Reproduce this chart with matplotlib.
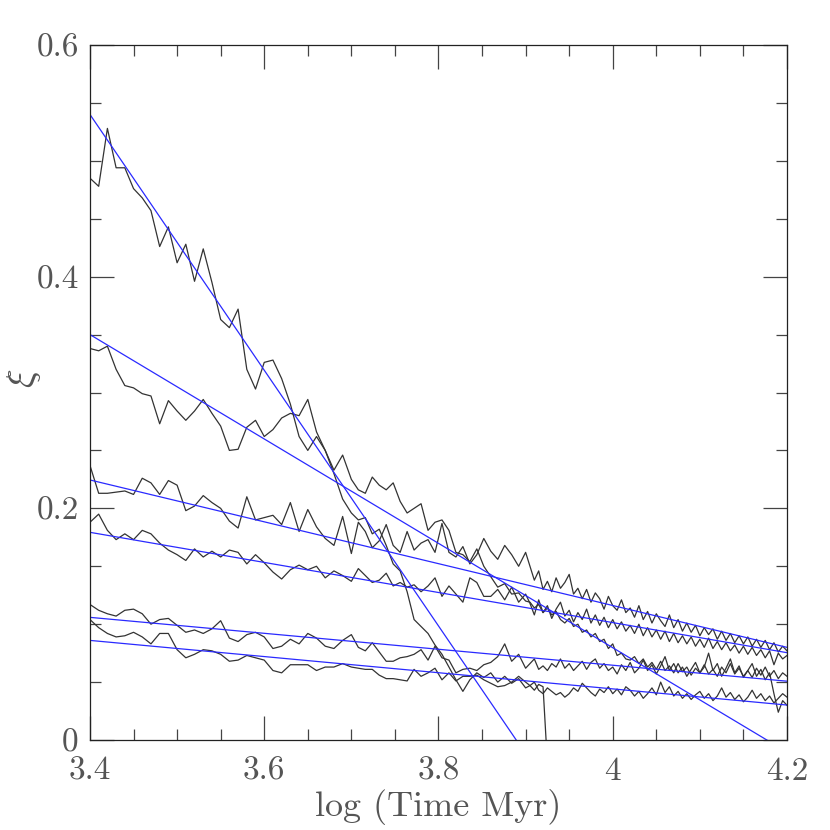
import matplotlib
matplotlib.use('Agg')
import matplotlib.pyplot as plt
import numpy as np

plt.rcParams['font.family'] = ['cmr10', 'DejaVu Serif']
plt.rcParams['mathtext.fontset'] = 'cm'
plt.rcParams['axes.formatter.use_mathtext'] = True

# log(time) sample grid shared by the simulation runs
log_t = [3.40, 3.41, 3.42, 3.43, 3.44, 3.45, 3.46, 3.47, 3.48, 3.49,
         3.50, 3.51, 3.52, 3.53, 3.54, 3.55, 3.56, 3.57, 3.58, 3.59,
         3.60, 3.61, 3.62, 3.63, 3.64, 3.65, 3.66, 3.67, 3.68, 3.69,
         3.70,
         3.708, 3.716, 3.724, 3.732, 3.740, 3.748, 3.756, 3.764, 3.772, 3.780,
         3.788, 3.796, 3.804, 3.812, 3.820, 3.828, 3.836, 3.844, 3.852, 3.860,
         3.868, 3.876, 3.884, 3.892, 3.900,
         3.905, 3.910, 3.915, 3.920, 3.925, 3.930, 3.935, 3.940, 3.945, 3.950,
         3.955, 3.960, 3.965, 3.970, 3.975, 3.980, 3.985, 3.990, 3.995, 4.000,
         4.005, 4.010, 4.015, 4.020, 4.025, 4.030, 4.035, 4.040, 4.045, 4.050,
         4.055, 4.060, 4.065, 4.070, 4.075, 4.080, 4.085, 4.090, 4.095, 4.100,
         4.105, 4.110, 4.115, 4.120, 4.125, 4.130, 4.135, 4.140, 4.145, 4.150,
         4.155, 4.160, 4.165, 4.170, 4.175, 4.180, 4.185, 4.190, 4.195, 4.200]

xi_a = [0.485, 0.478, 0.528, 0.494, 0.494, 0.476, 0.468, 0.457, 0.426, 0.443,
        0.412, 0.428, 0.396, 0.424, 0.395, 0.363, 0.356, 0.372, 0.320, 0.303,
        0.326, 0.328, 0.312, 0.290, 0.262, 0.250, 0.262, 0.250, 0.230, 0.208,
        0.196,
        0.190, 0.192, 0.178, 0.182, 0.168, 0.152, 0.146, 0.128, 0.104, 0.098,
        0.092, 0.082, 0.074, 0.063, 0.052, 0.042, 0.052, 0.058, 0.054, 0.058,
        0.050, 0.055, 0.049, 0.053, 0.045,
        0.047, 0.043, 0.048, 0.046, -0.020]

xi_b = [0.338, 0.336, 0.340, 0.320, 0.306, 0.304, 0.299, 0.297, 0.273, 0.293,
        0.284, 0.276, 0.284, 0.294, 0.282, 0.271, 0.250, 0.251, 0.270, 0.276,
        0.262, 0.268, 0.278, 0.282, 0.280, 0.294, 0.266, 0.250, 0.233, 0.246,
        0.225,
        0.216, 0.213, 0.227, 0.220, 0.216, 0.222, 0.206, 0.196, 0.200, 0.204,
        0.181, 0.188, 0.190, 0.181, 0.162, 0.160, 0.154, 0.165, 0.150, 0.141,
        0.132, 0.135, 0.126, 0.127, 0.120,
        0.119, 0.114, 0.117, 0.110, 0.114, 0.108, 0.111, 0.104, 0.101, 0.105,
        0.098, 0.100, 0.093, 0.095, 0.089, 0.092, 0.085, 0.087, 0.079, 0.083,
        0.073, 0.075, 0.070, 0.069, 0.072, 0.066, 0.070, 0.063, 0.067, 0.061,
        0.068, 0.060, 0.064, 0.058, 0.066, 0.059, 0.063, 0.056, 0.062, 0.058,
        0.065, 0.057, 0.061, 0.055, 0.063, 0.058, 0.066, 0.057, 0.062, 0.055,
        0.060, 0.054, 0.062, 0.056, 0.063, 0.055, 0.060, 0.053, 0.058, 0.055]

xi_c = [0.237, 0.213, 0.213, 0.214, 0.215, 0.212, 0.226, 0.222, 0.212, 0.224,
        0.220, 0.198, 0.202, 0.211, 0.205, 0.200, 0.189, 0.183, 0.210, 0.190,
        0.192, 0.194, 0.186, 0.205, 0.180, 0.199, 0.184, 0.174, 0.168, 0.193,
        0.161,
        0.188, 0.180, 0.166, 0.172, 0.186, 0.168, 0.162, 0.180, 0.164, 0.170,
        0.173, 0.162, 0.187, 0.162, 0.158, 0.167, 0.152, 0.160, 0.174, 0.163,
        0.156, 0.168, 0.160, 0.150, 0.162,
        0.150, 0.138, 0.146, 0.130, 0.137, 0.128, 0.140, 0.131, 0.136, 0.143,
        0.126, 0.131, 0.122, 0.130, 0.119, 0.127, 0.122, 0.113, 0.124, 0.116,
        0.112, 0.121, 0.110, 0.114, 0.106, 0.116, 0.104, 0.111, 0.101, 0.109,
        0.103, 0.098, 0.108, 0.097, 0.104, 0.094, 0.101, 0.093, 0.099, 0.090,
        0.097, 0.091, 0.096, 0.087, 0.094, 0.086, 0.092, 0.084, 0.090, 0.083,
        0.089, 0.081, 0.087, 0.080, 0.086, 0.078, 0.084, 0.076, 0.081, 0.077]

xi_d = [0.188, 0.195, 0.181, 0.173, 0.178, 0.173, 0.181, 0.178, 0.170, 0.164,
        0.160, 0.155, 0.165, 0.158, 0.163, 0.158, 0.164, 0.162, 0.152, 0.160,
        0.153, 0.145, 0.139, 0.147, 0.151, 0.147, 0.150, 0.140, 0.146, 0.142,
        0.137,
        0.148, 0.142, 0.136, 0.138, 0.144, 0.133, 0.136, 0.132, 0.134, 0.128,
        0.133, 0.140, 0.124, 0.133, 0.126, 0.119, 0.140, 0.136, 0.124, 0.124,
        0.130, 0.121, 0.132, 0.119, 0.126,
        0.118, 0.108, 0.121, 0.110, 0.116, 0.105, 0.113, 0.119, 0.107, 0.112,
        0.102, 0.110, 0.104, 0.113, 0.101, 0.108, 0.099, 0.106, 0.097, 0.104,
        0.096, 0.102, 0.094, 0.099, 0.092, 0.100, 0.090, 0.097, 0.089, 0.095,
        0.087, 0.094, 0.085, 0.092, 0.084, 0.090, 0.083, 0.089, 0.081, 0.087,
        0.080, 0.088, 0.079, 0.085, 0.078, 0.084, 0.077, 0.082, 0.075, 0.081,
        0.074, 0.080, 0.073, 0.078, 0.071, 0.077, 0.065, 0.075, 0.070, 0.073]

xi_e = [0.117, 0.112, 0.109, 0.107, 0.112, 0.113, 0.109, 0.100, 0.104, 0.105,
        0.099, 0.093, 0.095, 0.092, 0.096, 0.103, 0.088, 0.085, 0.091, 0.093,
        0.089, 0.079, 0.081, 0.087, 0.083, 0.092, 0.088, 0.081, 0.079, 0.086,
        0.091,
        0.080, 0.077, 0.084, 0.076, 0.068, 0.068, 0.071, 0.072, 0.074, 0.078,
        0.069, 0.081, 0.071, 0.069, 0.058, 0.061, 0.062, 0.060, 0.065, 0.067,
        0.072, 0.083, 0.068, 0.074, 0.062,
        0.066, 0.070, 0.061, 0.064, 0.060, 0.066, 0.063, 0.070, 0.062, 0.066,
        0.060, 0.064, 0.068, 0.061, 0.067, 0.070, 0.062, 0.066, 0.060, 0.063,
        0.057, 0.065, 0.060, 0.067, 0.058, 0.062, 0.069, 0.060, 0.065, 0.057,
        0.064, 0.072, 0.060, 0.066, 0.058, 0.063, 0.055, 0.061, 0.067, 0.058,
        0.063, 0.075, 0.060, 0.066, 0.055, 0.062, 0.070, 0.058, 0.064, 0.054,
        0.060, 0.066, 0.055, 0.061, 0.052, 0.058, 0.040, 0.024, 0.034, 0.030]

xi_f = [0.104, 0.097, 0.092, 0.089, 0.090, 0.093, 0.089, 0.083, 0.092, 0.092,
        0.078, 0.071, 0.074, 0.078, 0.077, 0.074, 0.068, 0.069, 0.073, 0.071,
        0.069, 0.060, 0.058, 0.065, 0.065, 0.065, 0.060, 0.063, 0.063, 0.066,
        0.063,
        0.062, 0.061, 0.061, 0.056, 0.053, 0.053, 0.052, 0.051, 0.061, 0.055,
        0.058, 0.062, 0.052, 0.058, 0.051, 0.055, 0.055, 0.056, 0.052, 0.049,
        0.046, 0.047, 0.050, 0.055, 0.050,
        0.047, 0.050, 0.043, 0.040, 0.045, 0.042, 0.039, 0.041, 0.037, 0.040,
        0.045, 0.042, 0.049, 0.045, 0.041, 0.038, 0.044, 0.041, 0.046, 0.040,
        0.044, 0.039, 0.046, 0.043, 0.038, 0.042, 0.036, 0.040, 0.045, 0.039,
        0.050, 0.041, 0.046, 0.038, 0.042, 0.036, 0.040, 0.035, 0.039, 0.042,
        0.036, 0.040, 0.034, 0.038, 0.045, 0.037, 0.041, 0.035, 0.039, 0.033,
        0.037, 0.043, 0.036, 0.040, 0.034, 0.038, 0.032, 0.036, 0.040, 0.037]

runs = [xi_a, xi_b, xi_c, xi_d, xi_e, xi_f]

# straight-line fits: value at log t = 3.4 and at log t = 4.2
fit_x = [3.4, 4.2]
fit_start = [0.540, 0.350, 0.2245, 0.1793, 0.1059, 0.0860]
fit_end = [-0.343, -0.0104, 0.0800, 0.0754, 0.0508, 0.0302]

xticks = [3.4, 3.6, 3.8, 4.0, 4.2]
xtick_labels = ['3.4', '3.6', '3.8', '4', '4.2']
yticks = [0, 0.2, 0.4, 0.6]
ytick_labels = ['0', '0.2', '0.4', '0.6']

fig = plt.figure(figsize=(8.3, 8.3), dpi=100)
ax = fig.add_axes([0.1084, 0.1084, 0.8398, 0.8374])

for y in runs:
    ax.plot(log_t[:len(y)], y, color='#333333', lw=0.9)

for s, e in zip(fit_start, fit_end):
    ax.plot(fit_x, [s, e], color='#2a2aff', lw=0.9)

ax.set_xlim(3.4, 4.2)
ax.set_ylim(0, 0.6)
ax.set_xticks(xticks)
ax.set_xticklabels(xtick_labels)
ax.set_yticks(yticks)
ax.set_yticklabels(ytick_labels)
ax.xaxis.set_minor_locator(matplotlib.ticker.MultipleLocator(0.05))
ax.yaxis.set_minor_locator(matplotlib.ticker.MultipleLocator(0.05))
ax.tick_params(which='both', direction='in', top=True, right=True,
               color='#444444', width=0.9)
ax.tick_params(which='major', length=17, labelsize=24, labelcolor='#555555')
ax.tick_params(axis='y', which='major', pad=8)
ax.tick_params(axis='x', which='major', pad=12)
ax.tick_params(which='minor', length=8)
for sp in ax.spines.values():
    sp.set_linewidth(0.9)
    sp.set_color('#222222')

ax.set_xlabel('log (Time Myr)', fontsize=26, color='#555555', labelpad=2)
ax.set_ylabel(r'$\xi$', fontsize=28, color='#555555')
ax.yaxis.set_label_coords(-0.068, 0.52)

fig.savefig('out.png', dpi=100)
